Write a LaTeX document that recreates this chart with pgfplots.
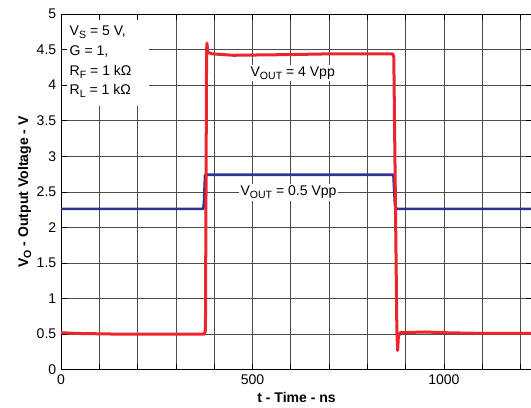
\documentclass[border=0pt]{standalone}
\usepackage{fontspec}
\setmainfont{Liberation Sans}
\usepackage{pgfplots}
\pgfplotsset{compat=1.18}
\definecolor{rd}{RGB}{237,35,45}
\definecolor{bl}{RGB}{46,49,146}
\newcommand\sub[1]{\raisebox{-0.4ex}{\fontsize{10.5}{10.5}\selectfont #1}}
\begin{document}
\fontsize{14}{17}\selectfont
\begin{tikzpicture}
\begin{axis}[name=ax,
  scale only axis, width=470pt, height=355pt,
  xmin=0, xmax=1230, ymin=0, ymax=5,
  xtick={0,100,...,1200}, xticklabels={0,,,,,500,,,,,1000,,},
  ytick={0,0.5,...,5},
  yticklabels={0,0.5,1,1.5,2,2.5,3,3.5,4,4.5,5},
  grid=major, grid style={black!70,line width=0.7pt},
  axis line style={black,line width=0.8pt},
  tick style={black,line width=0.7pt}, major tick length=6pt, tick align=inside,
  /pgf/number format/assume math mode=true,
  ticklabel style={font=\fontsize{14}{17}\selectfont},
  label style={font=\fontsize{14}{17}\selectfont\bfseries},
  xlabel={t - Time - ns},
  ylabel={V\sub{O} - Output Voltage - V},
  xlabel style={yshift=2pt},
  ylabel style={yshift=-4pt},
]
\addplot[bl, line width=2.6pt, line join=round] coordinates {
(0,2.26) (371,2.26) (373,2.33) (376,2.74) (600,2.74) (868,2.74) (872,2.32) (876,2.26) (1230,2.26)};
\addplot[rd, line width=3pt, line join=round] coordinates {
(0,0.52) (40,0.51) (150,0.50) (300,0.50) (374,0.50) (377,0.55) (380,4.50) (381,4.59) (383,4.46) (395,4.44) (450,4.42) (600,4.43) (700,4.44) (866,4.44) (869,4.40) (877,0.55) (879,0.27) (881,0.47) (886,0.52) (950,0.53) (1000,0.52) (1100,0.51) (1230,0.51)};
\fill[white] (axis cs:0,5) rectangle (axis cs:230,3.71);
\draw[black,line width=0.8pt] (axis cs:0,3.71) -- (axis cs:0,5) -- (axis cs:230,5);
\draw[black,line width=0.7pt] (axis cs:0,4.5) -- ++(6pt,0) (axis cs:0,4) -- ++(6pt,0)
  (axis cs:100,5) -- ++(0,-6pt) (axis cs:200,5) -- ++(0,-6pt);
\node[anchor=north west, align=left, inner sep=0pt, font=\fontsize{14}{19.5}\selectfont] at (axis cs:22,4.83)
  {V\sub{S} = 5 V,\\G = 1,\\R\sub{F} = 1 kΩ\\R\sub{L} = 1 kΩ};
\node[fill=white, inner sep=2pt] at (axis cs:605,4.17) {V\sub{OUT} = 4 Vpp};
\node[fill=white, inner sep=2pt] at (axis cs:594,2.49) {V\sub{OUT} = 0.5 Vpp};
\end{axis}
\pgfresetboundingbox
\path[use as bounding box] ([xshift=-61pt,yshift=-38pt]ax.south west) rectangle ([xshift=-1pt,yshift=14pt]ax.north east);
\end{tikzpicture}
\end{document}
